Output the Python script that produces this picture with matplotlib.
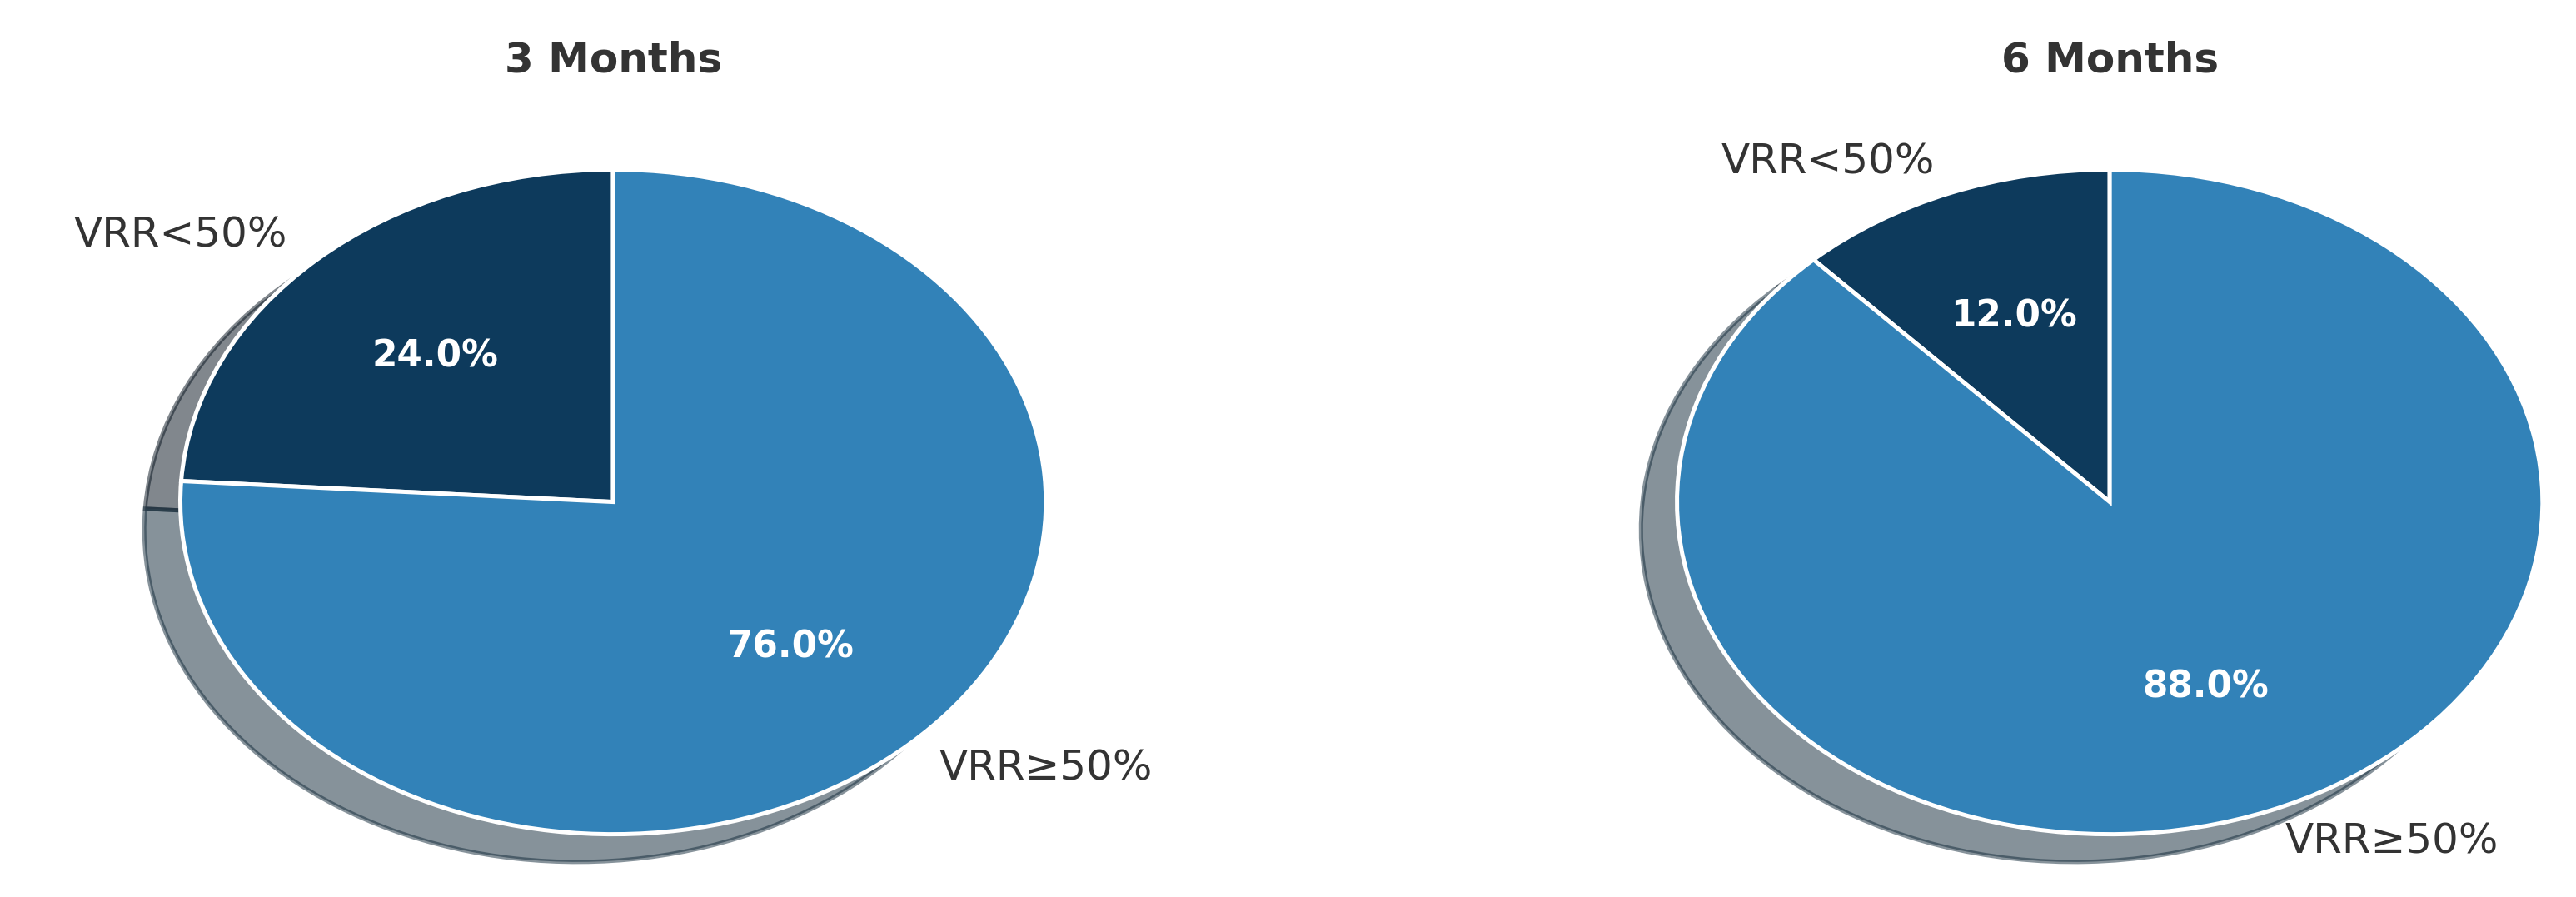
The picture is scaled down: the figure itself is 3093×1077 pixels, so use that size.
import matplotlib
matplotlib.use("Agg")
import matplotlib.pyplot as plt

titles = ["3 Months", "6 Months"]
labels = ["VRR<50%", "VRR≥50%"]
values_3m = [24.0, 76.0]
values_6m = [12.0, 88.0]
colors = ["#0d3a5c", "#3282b8"]

fig = plt.figure(figsize=(10.31, 3.59), dpi=300)
positions = [[0.070, 0.070, 0.336, 0.741], [0.651, 0.070, 0.336, 0.741]]
for pos, title, vals in zip(positions, titles, [values_3m, values_6m]):
    ax = fig.add_axes(pos)
    wedges, texts, autotexts = ax.pie(vals, labels=labels, colors=colors, startangle=90,
                                      autopct="%1.1f%%", pctdistance=0.6, labeldistance=1.1,
                                      shadow=True,
                                      wedgeprops=dict(edgecolor="white", linewidth=1.2),
                                      textprops=dict(fontsize=12, color="#333333"))
    for t in autotexts:
        t.set_color("white"); t.set_fontweight("bold"); t.set_fontsize(10.5)
    ax.set_xlim(-1, 1); ax.set_ylim(-1, 1)
    ax.set_aspect("auto")
    for a in wedges + texts + autotexts:
        a.set_clip_on(False)
    for p in ax.patches:
        p.set_clip_on(False)
    ax.set_title(title, fontsize=12, fontweight="bold", color="#333333", pad=28)

fig.savefig("out.png", dpi=300)
